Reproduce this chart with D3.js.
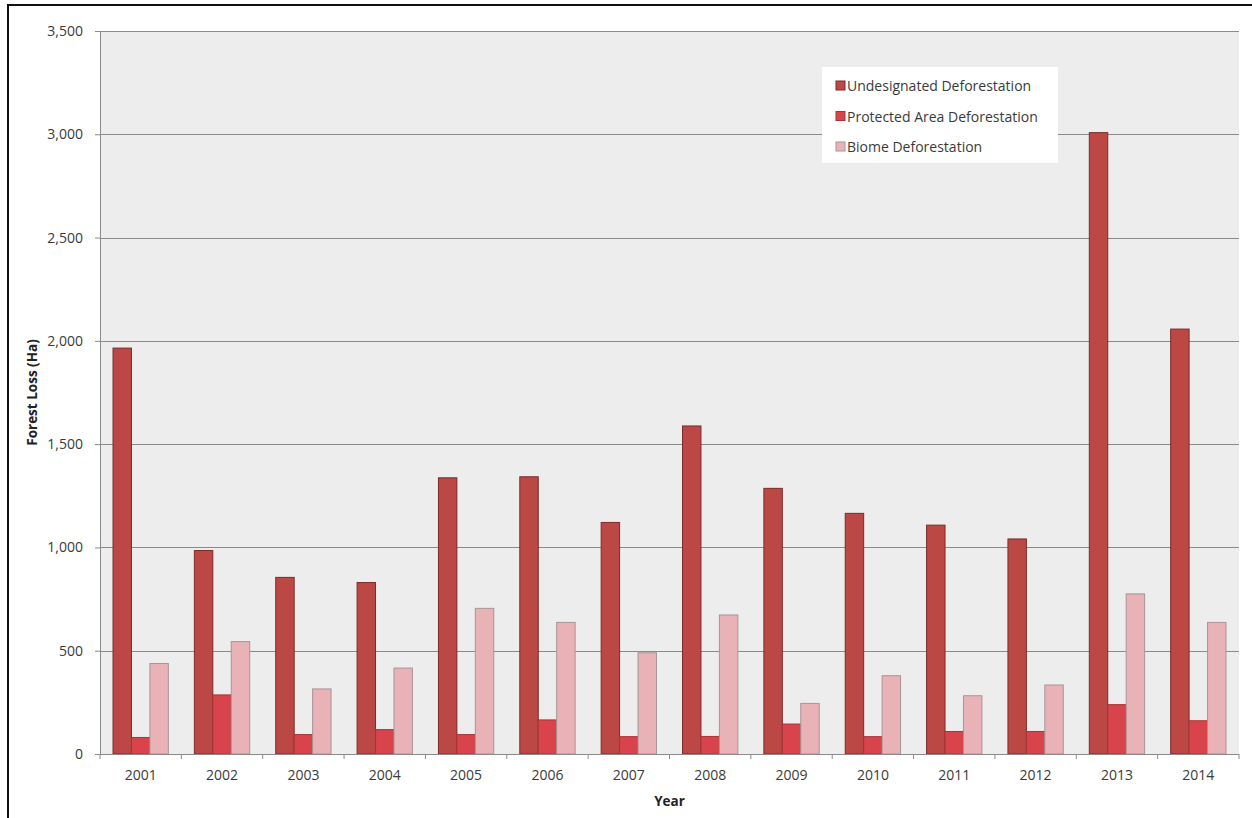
<!DOCTYPE html>
<html>
<head>
<meta charset="utf-8">
<script src="https://cdn.jsdelivr.net/npm/d3@7/dist/d3.min.js"></script>
<style>
  html, body { margin: 0; padding: 0; background: #ffffff; }
  svg { display: block; }
</style>
</head>
<body>
<svg id="chart" width="1252" height="818"></svg>
<script>
const years = ["2001","2002","2003","2004","2005","2006","2007","2008","2009","2010","2011","2012","2013","2014"];
const undesignated = [1965, 985, 855, 830, 1337, 1342, 1121, 1588, 1286, 1165, 1108, 1041, 3008, 2057];
const protectedArea = [80, 286, 94, 118, 94, 165, 84, 85, 145, 84, 109, 109, 239, 161];
const biome = [438, 544, 315, 416, 705, 637, 490, 673, 245, 379, 282, 334, 775, 637];
const seriesNames = ["Undesignated Deforestation", "Protected Area Deforestation", "Biome Deforestation"];
const yTicks = [0, 500, 1000, 1500, 2000, 2500, 3000, 3500];

const fills = ["#bc4845", "#d8434c", "#e8b2b6"];
const strokes = ["#7d2a2a", "#a83438", "#a89496"];

const svg = d3.select("#chart");
const W = 1252, H = 818;
const m = {left: 100, right: 13, top: 31, bottom: 64};
const pw = W - m.left - m.right, ph = H - m.top - m.bottom;
const font = "'Open Sans', sans-serif";

// outer frame
svg.append("path")
  .attr("d", `M8,${H} L8,5 L${W},5`)
  .attr("fill", "none").attr("stroke", "#111").attr("stroke-width", 2);

const g = svg.append("g").attr("transform", `translate(${m.left},${m.top})`);

const x0 = d3.scaleBand().domain(years).range([0, pw]).paddingInner(0.32).paddingOuter(0.16);
const x1 = d3.scaleBand().domain(d3.range(3)).range([0, x0.bandwidth()]);
const y = d3.scaleLinear().domain([0, 3500]).range([ph, 0]);

// plot background
g.append("rect").attr("x", 0).attr("y", 0).attr("width", pw).attr("height", ph).attr("fill", "#ededed");

// gridlines
g.append("g").selectAll("line").data(yTicks.filter(t => t > 0)).join("line")
  .attr("x1", 0).attr("x2", pw)
  .attr("y1", d => Math.round(y(d)) + 0.5).attr("y2", d => Math.round(y(d)) + 0.5)
  .attr("stroke", "#8a8a8a").attr("stroke-width", 1.2);

// bars
const data = years.map((yr, i) => ({year: yr, vals: [undesignated[i], protectedArea[i], biome[i]]}));
const groups = g.append("g").selectAll("g").data(data).join("g")
  .attr("transform", d => `translate(${x0(d.year)},0)`);
groups.selectAll("rect").data(d => d.vals.map((v, k) => ({k, v}))).join("rect")
  .attr("x", d => x1(d.k))
  .attr("y", d => y(d.v))
  .attr("width", x1.bandwidth())
  .attr("height", d => ph - y(d.v))
  .attr("fill", d => fills[d.k])
  .attr("stroke", d => strokes[d.k]).attr("stroke-width", 1);

// y axis
const yAxis = d3.axisLeft(y).tickValues(yTicks).tickSize(5).tickPadding(12).tickFormat(d3.format(","));
const ya = g.append("g").call(yAxis);
ya.select(".domain").attr("stroke", "#8a8a8a").attr("d", `M-5,0.5H0.5V${ph}`);
ya.selectAll(".tick line").attr("stroke", "#8a8a8a");
ya.selectAll("text").attr("font-family", font).attr("font-size", 14).attr("fill", "#3a3a3a");

// x axis
const boundaries = years.map(yr => x0(yr) - x0.step() * x0.paddingInner() / 2).concat([pw]);
const xa = g.append("g").attr("transform", `translate(0,${ph})`);
xa.append("line").attr("x1", 0).attr("x2", pw).attr("y1", 0.5).attr("y2", 0.5).attr("stroke", "#8a8a8a");
xa.selectAll("line.tk").data(boundaries).join("line").attr("class", "tk")
  .attr("x1", d => d).attr("x2", d => d).attr("y1", 0).attr("y2", 5).attr("stroke", "#8a8a8a");
xa.selectAll("text").data(years).join("text")
  .attr("x", d => x0(d) + x0.bandwidth() / 2)
  .attr("y", 26)
  .attr("text-anchor", "middle")
  .attr("font-family", font).attr("font-size", 14).attr("fill", "#3a3a3a")
  .text(d => d);

// axis titles
svg.append("text")
  .attr("transform", `translate(37,${m.top + ph / 2}) rotate(-90)`)
  .attr("text-anchor", "middle")
  .attr("font-family", font).attr("font-size", 13.5).attr("font-weight", "bold").attr("fill", "#222")
  .text("Forest Loss (Ha)");
svg.append("text")
  .attr("x", m.left + pw / 2).attr("y", 806)
  .attr("text-anchor", "middle")
  .attr("font-family", font).attr("font-size", 13.5).attr("font-weight", "bold").attr("fill", "#222")
  .text("Year");

// legend
const lg = svg.append("g").attr("transform", "translate(822,67)");
lg.append("rect").attr("x", 0).attr("y", 0).attr("width", 236).attr("height", 96).attr("fill", "#ffffff");
seriesNames.forEach((name, k) => {
  const yy = 19 + k * 30.5;
  lg.append("rect").attr("x", 14).attr("y", yy - 5).attr("width", 9).attr("height", 9)
    .attr("fill", fills[k]).attr("stroke", strokes[k]).attr("stroke-width", 1);
  lg.append("text").attr("x", 25).attr("y", yy + 5)
    .attr("font-family", font).attr("font-size", 14).attr("fill", "#3a3a3a")
    .text(name);
});
</script>
</body>
</html>
